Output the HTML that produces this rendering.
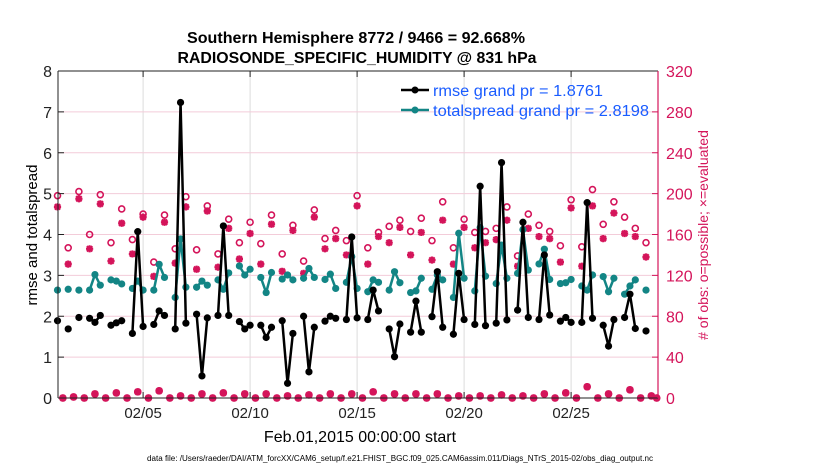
<!DOCTYPE html>
<html><head><meta charset="utf-8"><style>
html,body{margin:0;padding:0;background:#fff;}
svg{display:block;font-family:"Liberation Sans",Arial,sans-serif;}
</style></head><body>
<svg id="chart" width="830" height="470" viewBox="0 0 830 470" xmlns="http://www.w3.org/2000/svg">
<rect x="0" y="0" width="830" height="470" fill="#fff"/>
<g id="grid"></g>
<g id="marks"></g>
<g id="axes"></g>
<text x="356" y="43" text-anchor="middle" font-size="15.5" font-weight="bold" textLength="338" lengthAdjust="spacingAndGlyphs">Southern Hemisphere 8772 / 9466 = 92.668%</text>
<text x="357" y="63" text-anchor="middle" font-size="15.5" font-weight="bold" textLength="359" lengthAdjust="spacingAndGlyphs">RADIOSONDE_SPECIFIC_HUMIDITY @ 831 hPa</text>
<text transform="translate(37,235) rotate(-90)" text-anchor="middle" font-size="15">rmse and totalspread</text>
<text transform="translate(708,235) rotate(-90)" text-anchor="middle" font-size="14" fill="#d4145a">
# of obs: o=possible; ×=evaluated</text>
<text x="360" y="442" text-anchor="middle" font-size="16">Feb.01,2015 00:00:00 start</text>
<text x="400" y="461" text-anchor="middle" font-size="8" textLength="506" lengthAdjust="spacingAndGlyphs">data file: /Users/raeder/DAI/ATM_forcXX/CAM6_setup/f.e21.FHIST_BGC.f09_025.CAM6assim.011/Diags_NTrS_2015-02/obs_diag_output.nc</text>
<g>
<line x1="401" y1="90" x2="429" y2="90" stroke="#000" stroke-width="2.5"/>
<circle cx="415" cy="90" r="3.5" fill="#000"/>
<text x="433" y="96" font-size="15.5" fill="#1a5cff" textLength="170" lengthAdjust="spacingAndGlyphs">rmse grand pr = 1.8761</text>
<line x1="401" y1="110" x2="429" y2="110" stroke="#138585" stroke-width="2.5"/>
<circle cx="415" cy="110" r="3.5" fill="#138585"/>
<text x="433" y="116" font-size="15.5" fill="#1a5cff" textLength="216" lengthAdjust="spacingAndGlyphs">totalspread grand pr = 2.8198</text>
</g>
</svg>
<script>
// slot = 6-hour step since Feb 01 00Z
const rmse = [1.89,null,1.69,null,1.97,null,1.95,1.85,2.02,null,1.78,1.84,1.89,null,1.58,4.07,1.75,null,1.80,2.13,2.02,null,1.69,7.23,1.83,null,2.05,0.54,1.96,null,2.02,4.21,2.02,null,1.87,1.69,1.78,null,1.78,1.48,1.73,null,1.89,0.36,1.58,null,2.00,0.64,1.73,null,1.88,2.00,1.95,null,1.92,3.94,1.96,null,1.92,2.64,2.13,null,1.69,1.01,1.81,null,1.61,2.37,1.61,null,1.99,3.09,1.73,null,1.56,3.05,1.92,null,1.80,5.18,1.77,null,1.83,5.76,1.91,null,2.15,4.30,1.97,null,1.92,3.50,2.03,null,1.88,1.97,1.85,null,1.85,4.78,1.95,null,1.78,1.27,1.92,null,1.97,2.54,1.70,null,1.64,null,null];
const spread = [2.64,null,2.66,null,2.64,null,2.64,3.02,2.76,null,2.89,2.86,2.79,null,2.68,2.86,2.64,null,2.64,3.27,2.95,null,2.46,3.89,2.71,null,2.71,2.86,2.76,null,2.89,2.66,3.06,null,3.23,3.01,3.15,null,2.95,2.58,3.07,null,2.91,3.01,2.89,null,2.93,3.17,2.95,null,2.90,3.03,2.68,null,2.83,3.46,2.68,null,2.60,2.89,2.83,null,2.64,3.09,2.82,null,2.58,2.62,2.93,null,2.66,3.01,2.89,null,2.46,4.03,2.93,null,2.62,4.17,2.98,null,2.80,3.74,2.93,null,3.05,4.12,3.13,null,3.28,3.64,2.90,null,2.80,2.82,2.90,null,2.74,2.64,3.01,null,2.97,2.60,2.93,null,2.54,2.74,2.89,null,2.64,null,null];
const possible = [198,0,147,1,202,0,160,4,199,0,152,5,185,0,155,6,180,0,133,7,179,0,146,2,197,0,145,4,188,0,141,5,175,0,152,4,172,0,151,4,179,0,141,2,169,0,134,3,184,0,156,4,164,0,154,4,198,0,147,6,162,0,168,4,174,0,163,4,176,0,154,4,192,0,147,2,175,0,162,2,163,0,166,3,187,0,139,2,180,0,169,4,163,0,149,5,194,0,148,11,204,0,170,4,192,0,177,8,166,0,152,2,0];
const evaluated = [187,0,131,1,195,0,146,4,190,0,134,5,171,0,141,6,177,0,119,7,172,0,132,2,187,0,126,4,183,0,128,5,166,0,136,4,161,0,131,4,170,0,124,2,164,0,122,3,177,0,146,4,156,0,140,4,188,0,131,6,158,0,152,4,167,0,140,4,162,0,135,4,174,0,131,2,167,0,147,2,152,0,155,3,174,0,129,2,166,0,158,4,156,0,133,5,186,0,129,11,188,0,156,4,181,0,161,8,158,0,138,2,0];
const xTickDays = [4,9,14,19,24];
const xTickLabels = ["02/05","02/10","02/15","02/20","02/25"];
const yTicks = [0,1,2,3,4,5,6,7,8];
const y2Ticks = [0,40,80,120,160,200,240,280,320];

const NS="http://www.w3.org/2000/svg";
const L=58,R=658,T=71,B=398;
function xs(slot){return 57.5+slot*5.35;}
function xDay(d){return xs(d*4);}
function ys(v){return B-(v/8)*(B-T);}
function y2s(c){return B-(c/320)*(B-T);}
function mk(tag,attrs,parent){const e=document.createElementNS(NS,tag);for(const k in attrs)e.setAttribute(k,attrs[k]);parent.appendChild(e);return e;}
const grid=document.getElementById('grid'),marks=document.getElementById('marks'),axes=document.getElementById('axes');

xTickDays.forEach((d,i)=>{
  const x=xDay(d);
  const g=mk('line',{x1:x,y1:T,x2:x,y2:B,stroke:'#dcdcdc','stroke-width':1},grid);
  
  
  mk('line',{x1:x,y1:B,x2:x,y2:B-6,stroke:'#222','stroke-width':1},axes);
  mk('line',{x1:x,y1:T,x2:x,y2:T+6,stroke:'#222','stroke-width':1},axes);
  const t=mk('text',{x:x,y:418,'text-anchor':'middle','font-size':15,fill:'#222'},axes);
  t.textContent=xTickLabels[i];
  
  
});
y2Ticks.forEach(c=>{
  const y=y2s(c);
  if(c>0&&c<320){
    const g=mk('line',{x1:L,y1:y,x2:R,y2:y,stroke:'#f3ccd9','stroke-width':1},grid);
    
    
  }
  mk('line',{x1:R,y1:y,x2:R-6,y2:y,stroke:'#d4145a','stroke-width':1},axes);
  const t=mk('text',{x:666,y:y+6,'font-size':16,fill:'#d4145a'},axes);
  t.textContent=c;
  
  
});
yTicks.forEach(v=>{
  const y=ys(v);
  mk('line',{x1:L,y1:y,x2:L+6,y2:y,stroke:'#222','stroke-width':1},axes);
  const t=mk('text',{x:52,y:y+6,'text-anchor':'end','font-size':16,fill:'#222'},axes);
  t.textContent=v;
  
  
});
mk('line',{x1:L,y1:T,x2:R,y2:T,stroke:'#222','stroke-width':1},axes);
mk('line',{x1:L,y1:B,x2:R,y2:B,stroke:'#222','stroke-width':1},axes);
mk('line',{x1:L,y1:T,x2:L,y2:B,stroke:'#222','stroke-width':1},axes);
const ra=mk('line',{x1:R,y1:T,x2:R,y2:B,stroke:'#d4145a','stroke-width':1.2},axes);



// obs counts
const cg=mk('g',{},marks);


possible.forEach((c,i)=>{
  const x=xs(i),y=y2s(c);
  const o=mk('circle',{cx:x,cy:y,r:3,fill:'none',stroke:'#d4145a','stroke-width':1.6},cg);
  
  
});
evaluated.forEach((c,i)=>{
  const x=xs(i),y=y2s(c),r=3.6;
  const s=mk('path',{d:`M${x-r},${y}H${x+r}M${x},${y-r}V${y+r}M${x-r*0.75},${y-r*0.75}L${x+r*0.75},${y+r*0.75}M${x-r*0.75},${y+r*0.75}L${x+r*0.75},${y-r*0.75}`,stroke:'#d4145a','stroke-width':2.2,fill:'none'},cg);
  
  
});

function series(arr,color,name){
  const g=mk('g',{},marks);
  
  
  let d='';
  for(let i=0;i<arr.length;i++){
    if(arr[i]==null)continue;
    const cmd=(i>0&&arr[i-1]!=null)?'L':'M';
    d+=cmd+xs(i).toFixed(2)+','+ys(arr[i]).toFixed(2);
  }
  mk('path',{d:d,fill:'none',stroke:color,'stroke-width':2.5,'stroke-linejoin':'round'},g);
  arr.forEach((v,i)=>{
    if(v==null)return;
    const c=mk('circle',{cx:xs(i),cy:ys(v),r:3.6,fill:color},g);
    
    
  });
}
series(spread,'#138585','totalspread-series');
series(rmse,'#000000','rmse-series');
</script>
</body></html>
